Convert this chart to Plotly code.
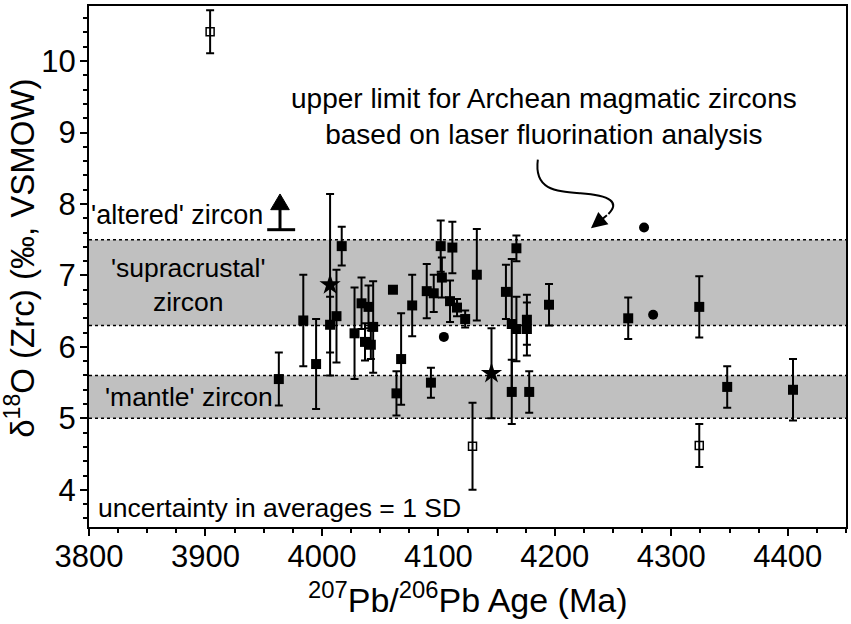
import plotly.graph_objects as go

# Filled squares: age (Ma), d18O, 1SD
sq_age = [3963, 3984, 3995, 4007, 4012.5, 4017, 4028, 4034, 4037, 4040, 4042, 4044,
          4061, 4064, 4068, 4077.5, 4090, 4096, 4102, 4103, 4110, 4112, 4116, 4123,
          4093.6, 4133, 4158, 4163, 4163, 4167, 4167, 4176, 4176, 4178, 4195,
          4263, 4324, 4348, 4404.5]
sq_val = [5.55, 6.37, 5.76, 6.31, 6.43, 7.41, 6.19, 6.61, 6.07, 6.56, 6.03, 6.28,
          6.80, 5.35, 5.83, 6.58, 6.78, 6.75, 7.41, 6.97, 6.64, 7.39, 6.55, 6.39,
          5.50, 7.01, 6.77, 6.32, 5.37, 7.38, 6.25, 6.38, 6.25, 5.37, 6.59,
          6.40, 6.56, 5.44, 5.40]
sq_err = [0.37, 0.64, 0.63, 0.39, 0.65, 0.27, 0.64, 0.36, 0.26, 0.30, 0.20, 0.64,
          0.0, 0.31, 0.64, 0.43, 0.38, 0.26, 0.36, 0.28, 0.29, 0.36, 0.12, 0.12,
          0.21, 0.64, 0.38, 0.91, 0.45, 0.18, 0.45, 0.35, 0.37, 0.29, 0.29,
          0.29, 0.43, 0.29, 0.43]

# Stars
st_age = [4007, 4145.6]
st_val = [6.87, 5.63]
st_err = [1.27, 0.63]

# Circles (no error)
ci_age = [4104.7, 4276.6, 4284.4]
ci_val = [6.14, 7.67, 6.45]

# Open squares
op_age = [3904, 4129.3, 4324]
op_val = [10.41, 4.61, 4.62]
op_err = [0.30, 0.61, 0.30]

# Reference bands
supra_band = [6.3, 7.5]
mantle_band = [5.0, 5.6]

x_ticks = [3800, 3900, 4000, 4100, 4200, 4300, 4400]
y_ticks = [4, 5, 6, 7, 8, 9, 10]

FONT = "Liberation Sans, Arial, Helvetica, sans-serif"

fig = go.Figure()

eb = dict(type="data", thickness=2, width=4, color="black")

fig.add_trace(go.Scatter(x=sq_age, y=sq_val, mode="markers",
                         marker=dict(symbol="square", size=10, color="black"),
                         error_y=dict(array=sq_err, **eb), showlegend=False))
fig.add_trace(go.Scatter(x=st_age, y=st_val, mode="markers",
                         marker=dict(symbol="star", size=16, color="black"),
                         error_y=dict(array=st_err, **eb), showlegend=False))
fig.add_trace(go.Scatter(x=ci_age, y=ci_val, mode="markers",
                         marker=dict(symbol="circle", size=10, color="black"),
                         showlegend=False))
fig.add_trace(go.Scatter(x=op_age, y=op_val, mode="markers",
                         marker=dict(symbol="square-open", size=8, color="black",
                                     line=dict(width=1.5, color="black")),
                         error_y=dict(array=op_err, **eb), showlegend=False))

shapes = []
for lo, hi in (supra_band, mantle_band):
    shapes.append(dict(type="rect", xref="paper", yref="y", x0=0, x1=1, y0=lo, y1=hi,
                       fillcolor="#c0c0c0", line=dict(width=0), layer="below"))
    for v in (lo, hi):
        shapes.append(dict(type="line", xref="paper", yref="y", x0=0, x1=1, y0=v, y1=v,
                           line=dict(color="black", width=1.5, dash="dot"), layer="below"))

# 'altered' arrow
shapes.append(dict(type="line", xref="x", yref="y", x0=3953, x1=3977, y0=7.64, y1=7.64,
                   line=dict(color="black", width=3)))
shapes.append(dict(type="line", xref="x", yref="y", x0=3964, x1=3964, y0=7.64, y1=7.95,
                   line=dict(color="black", width=3)))
shapes.append(dict(type="path", xref="x", yref="y",
                   path="M 3956,7.92 L 3972,7.92 L 3964,8.14 Z",
                   fillcolor="black", line=dict(color="black", width=1)))
# curved pointer
shapes.append(dict(type="path", xref="x", yref="y",
                   path="M 4185.4,8.62 C 4182,8.2 4200,8.18 4222,8.15 C 4248,8.12 4256,8.02 4246,7.86",
                   line=dict(color="black", width=2)))

annotations = [
    dict(x=4231, y=7.66, ax=4246, ay=7.86, xref="x", yref="y", axref="x", ayref="y",
         text="", showarrow=True, arrowhead=2, arrowsize=1.6, arrowwidth=2, arrowcolor="black"),
    dict(x=4191, y=9.22, xref="x", yref="y", text="upper limit for Archean magmatic zircons<br>based on laser fluorination analysis",
         showarrow=False, font=dict(size=28, color="black", family=FONT), align="center"),
    dict(x=3800, y=7.85, xref="x", yref="y", text="'altered' zircon", xanchor="left",
         showarrow=False, font=dict(size=27, color="black", family=FONT)),
    dict(x=3885, y=6.87, xref="x", yref="y", text="'supracrustal'<br>zircon",
         showarrow=False, font=dict(size=26.5, color="black", family=FONT), align="center"),
    dict(x=3886, y=5.30, xref="x", yref="y", text="'mantle' zircon",
         showarrow=False, font=dict(size=26.5, color="black", family=FONT)),
    dict(x=3806, y=3.75, xref="x", yref="y", text="uncertainty in averages = 1 SD", xanchor="left",
         showarrow=False, font=dict(size=26.5, color="black", family=FONT)),
    dict(x=0.5, y=-0.136, xref="paper", yref="paper", xanchor="center", yanchor="middle",
         text="<sup>207</sup>Pb/<sup>206</sup>Pb Age (Ma)", showarrow=False,
         font=dict(size=34, color="black", family=FONT)),
    dict(x=-0.091, y=0.515, xref="paper", yref="paper", xanchor="center", yanchor="middle",
         textangle=-90,
         text="δ<sup>18</sup>O (Zrc) (‰, VSMOW)", showarrow=False,
         font=dict(size=33, color="black", family=FONT)),
]

fig.update_layout(
    width=851, height=624,
    margin=dict(l=89, r=5, t=6, b=97),
    plot_bgcolor="white", paper_bgcolor="white",
    shapes=shapes, annotations=annotations,
    font=dict(family=FONT, color="black"),
    xaxis=dict(range=[3800, 4450], tickvals=x_ticks, ticks="outside", ticklen=7, tickwidth=2,
               tickcolor="black", showline=True, linecolor="black", linewidth=2, mirror=True,
               showgrid=False, zeroline=False, tickfont=dict(size=31, family=FONT),
               automargin=False, ticklabelstandoff=-6,
               minor=dict(dtick=25, tick0=3800, ticks="outside", ticklen=4, tickwidth=1.5, tickcolor="black")),
    yaxis=dict(range=[3.48, 10.77], tickvals=y_ticks, ticks="outside", ticklen=7, tickwidth=2,
               tickcolor="black", showline=True, linecolor="black", linewidth=2, mirror=True,
               showgrid=False, zeroline=False, tickfont=dict(size=31, family=FONT),
               automargin=False, ticklabelstandoff=-2,
               minor=dict(dtick=0.2, tick0=4, ticks="outside", ticklen=4, tickwidth=1.5, tickcolor="black")),
)

fig.write_html("out.html", config={"displayModeBar": False},
               post_script="document.body.style.margin='0';document.body.style.overflow='hidden';")
